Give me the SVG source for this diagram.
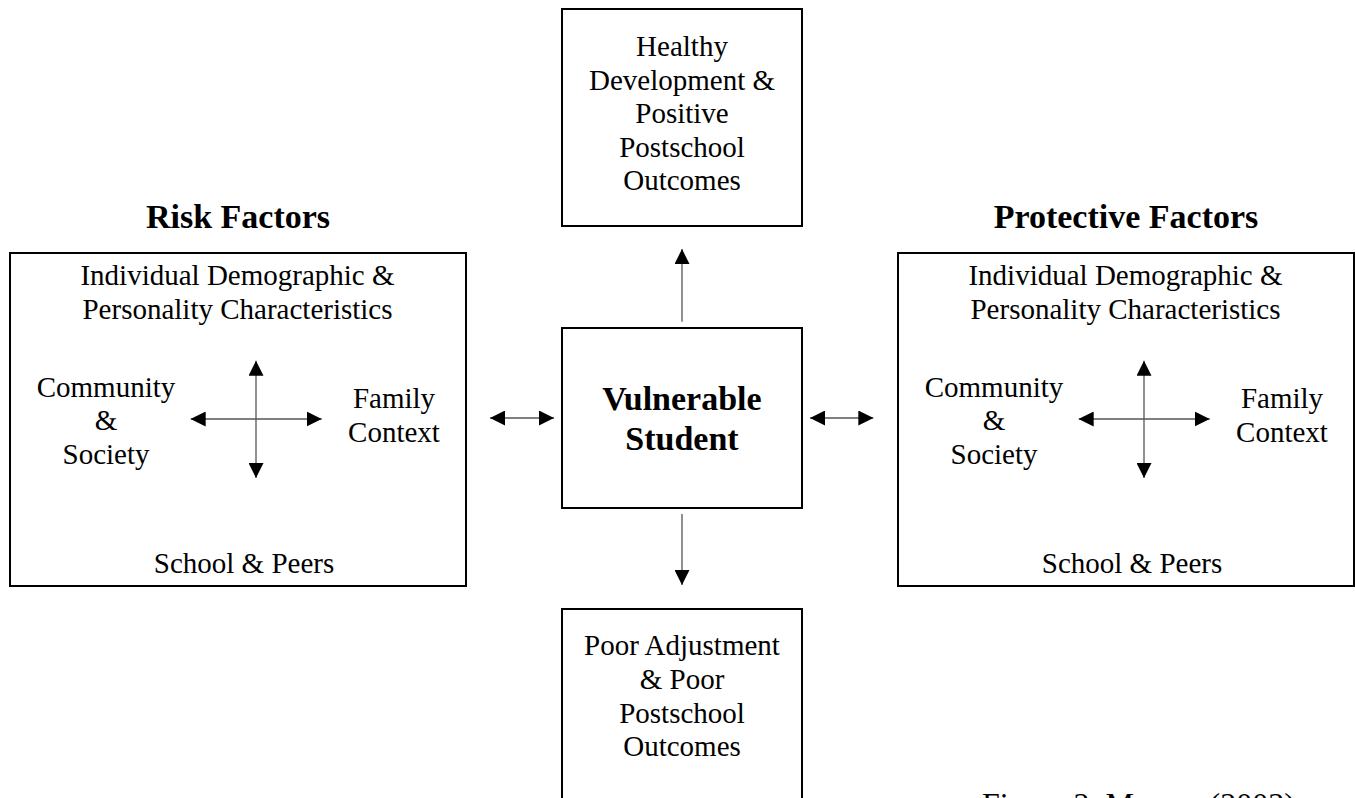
<svg xmlns="http://www.w3.org/2000/svg" width="1355" height="798" viewBox="0 0 1355 798">
<style>
.box{fill:#fff;stroke:#000;stroke-width:2}
.t{font-family:"Liberation Serif","Times New Roman",serif;font-size:29px;fill:#000;text-anchor:middle}
.b{font-family:"Liberation Serif","Times New Roman",serif;font-size:34px;font-weight:bold;fill:#000;text-anchor:middle}
.ln{stroke:#000;stroke-width:1;fill:none}
.lv{stroke:#555;stroke-width:1.3;fill:none}
</style>
<defs>
<marker id="ah" markerUnits="userSpaceOnUse" markerWidth="15" markerHeight="15" refX="15" refY="7.5" orient="auto-start-reverse" viewBox="0 0 15 15">
<path d="M0,0 L15,7.5 L0,15 Z" fill="#000"/>
</marker>
</defs>
<rect width="1355" height="798" fill="#fff"/>

<g id="healthy">
<rect class="box" x="562" y="9" width="240" height="217"/>
<text class="t" x="682" y="56">Healthy</text>
<text class="t" x="682" y="89.5">Development &amp;</text>
<text class="t" x="682" y="123">Positive</text>
<text class="t" x="682" y="156.5">Postschool</text>
<text class="t" x="682" y="190">Outcomes</text>
</g>

<g id="risk">
<text class="b" x="238" y="228">Risk Factors</text>
<rect class="box" x="10" y="253" width="456" height="333"/>
<text class="t" x="237.5" y="285">Individual Demographic &amp;</text>
<text class="t" x="237.5" y="319">Personality Characteristics</text>
<text class="t" x="106" y="397">Community</text>
<text class="t" x="106" y="430">&amp;</text>
<text class="t" x="106" y="464">Society</text>
<text class="t" x="394" y="408">Family</text>
<text class="t" x="394" y="442">Context</text>
<text class="t" x="244" y="573">School &amp; Peers</text>
<line class="ln" x1="190.7" y1="419" x2="321.7" y2="419" marker-start="url(#ah)" marker-end="url(#ah)"/>
<line class="lv" x1="256" y1="360.7" x2="256" y2="478" marker-start="url(#ah)" marker-end="url(#ah)"/>
</g>

<g id="protective">
<text class="b" x="1126" y="228">Protective Factors</text>
<rect class="box" x="898" y="253" width="456" height="333"/>
<text class="t" x="1125.5" y="285">Individual Demographic &amp;</text>
<text class="t" x="1125.5" y="319">Personality Characteristics</text>
<text class="t" x="994" y="397">Community</text>
<text class="t" x="994" y="430">&amp;</text>
<text class="t" x="994" y="464">Society</text>
<text class="t" x="1282" y="408">Family</text>
<text class="t" x="1282" y="442">Context</text>
<text class="t" x="1132" y="573">School &amp; Peers</text>
<line class="ln" x1="1078.7" y1="419" x2="1209.7" y2="419" marker-start="url(#ah)" marker-end="url(#ah)"/>
<line class="lv" x1="1144" y1="360.7" x2="1144" y2="478" marker-start="url(#ah)" marker-end="url(#ah)"/>
</g>

<g id="student">
<rect class="box" x="562" y="328" width="240" height="180"/>
<text class="b" x="682" y="410">Vulnerable</text>
<text class="b" x="682" y="450">Student</text>
</g>

<g id="poor">
<rect class="box" x="562" y="609" width="240" height="220"/>
<text class="t" x="682" y="655">Poor Adjustment</text>
<text class="t" x="682" y="689">&amp; Poor</text>
<text class="t" x="682" y="722.5">Postschool</text>
<text class="t" x="682" y="756">Outcomes</text>
</g>

<g id="connectors">
<line class="lv" x1="682" y1="321.7" x2="682" y2="249" marker-end="url(#ah)"/>
<line class="lv" x1="682" y1="514" x2="682" y2="585" marker-end="url(#ah)"/>
<line class="lv" x1="490" y1="418" x2="554" y2="418" marker-start="url(#ah)" marker-end="url(#ah)"/>
<line class="lv" x1="810" y1="418" x2="873.3" y2="418" marker-start="url(#ah)" marker-end="url(#ah)"/>
</g>

<text id="caption" x="982" y="815" style="font-family:'Liberation Serif','Times New Roman',serif;font-size:32px;fill:#000">Figure 2. Murray (2003)</text>
</svg>
